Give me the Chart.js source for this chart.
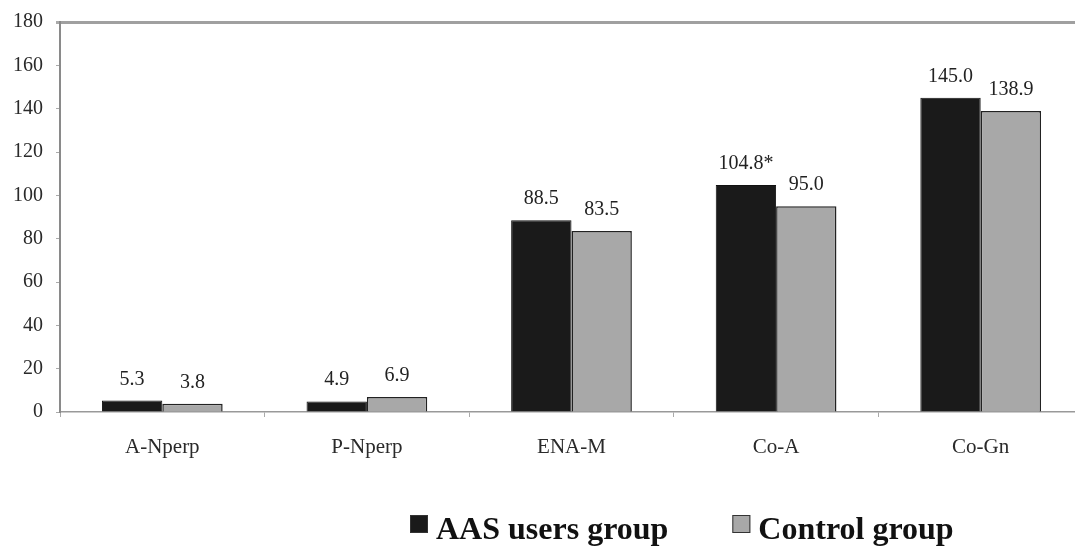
<!DOCTYPE html>
<html>
<head>
<meta charset="utf-8">
<script src="https://cdn.jsdelivr.net/npm/chart.js@4/dist/chart.umd.min.js"></script>
<style>
  html, body { margin: 0; padding: 0; background: #fff; overflow: hidden; }
  #wrap { width: 1083px; height: 547px; }
</style>
</head>
<body>
<div id="wrap"><canvas id="myChart" width="1083" height="547"></canvas></div>
<script>
// values
const categories = ['A-Nperp', 'P-Nperp', 'ENA-M', 'Co-A', 'Co-Gn'];
const aasUsers = [5.3, 4.9, 88.5, 104.8, 145.0];
const controls = [3.8, 6.9, 83.5, 95.0, 138.9];
const aasMarks = ['', '', '', '*', ''];
const controlMarks = ['', '', '', '', ''];
const seriesNames = ['AAS users group', 'Control group'];

const serif = "'Liberation Serif', 'DejaVu Serif', serif";

// value labels above each bar
const barLabels = {
    id: 'barLabels',
    afterDatasetsDraw(chart) {
        const ctx = chart.ctx;
        const marks = [aasMarks, controlMarks];
        ctx.save();
        ctx.font = '20px ' + serif;
        ctx.fillStyle = '#222';
        ctx.textAlign = 'center';
        ctx.textBaseline = 'alphabetic';
        chart.data.datasets.forEach((ds, i) => {
            chart.getDatasetMeta(i).data.forEach((bar, j) => {
                ctx.fillText(ds.data[j].toFixed(1) + marks[i][j], bar.x, bar.y - 16);
            });
        });
        ctx.restore();
    }
};

// legend drawn by hand: small boxes, big bold text, placed like the figure
const bottomLegend = {
    id: 'bottomLegend',
    afterDraw(chart) {
        const ctx = chart.ctx;
        let x = 410;
        const boxTop = 515, box = 18, baseline = 539;
        ctx.save();
        ctx.font = 'bold 32px ' + serif;
        ctx.textBaseline = 'alphabetic';
        ctx.textAlign = 'left';
        chart.data.datasets.forEach(ds => {
            ctx.fillStyle = ds.backgroundColor;
            ctx.fillRect(x, boxTop, box, box);
            ctx.strokeStyle = '#333';
            ctx.lineWidth = 1;
            ctx.strokeRect(x + 0.5, boxTop + 0.5, box - 1, box - 1);
            ctx.fillStyle = '#111';
            ctx.fillText(ds.label, x + box + 8, baseline);
            x += box + 8 + ctx.measureText(ds.label).width + 64;
        });
        ctx.restore();
    }
};

let ctx = document.getElementById('myChart').getContext('2d');
let chart = new Chart(ctx, {
    type: 'bar',
    data: {
        labels: categories,
        datasets: [{
            label: seriesNames[0],
            data: aasUsers,
            backgroundColor: '#1a1a1a',
            borderColor: '#111',
            borderWidth: 1
        }, {
            label: seriesNames[1],
            data: controls,
            backgroundColor: '#a8a8a8',
            borderColor: '#222',
            borderWidth: 1.5
        }]
    },
    options: {
        responsive: false,
        animation: false,
        layout: { padding: { left: 0, right: 0, top: 22, bottom: 70 } },
        datasets: { bar: { categoryPercentage: 0.59, barPercentage: 1.0 } },
        plugins: {
            tooltip: { enabled: false },
            legend: { display: false }
        },
        scales: {
            x: {
                afterFit: s => { s.height = 65; },
                border: { color: '#999', width: 1.5 },
                grid: { color: 'transparent', tickColor: '#aaa', tickLength: 5 },
                ticks: { font: { family: serif, size: 21 }, color: '#2a2a2a', padding: 18 }
            },
            y: {
                min: 0,
                max: 180,
                afterFit: s => { s.width = 60; s.paddingTop = 0; s.paddingBottom = 0; },
                border: { color: '#8a8a8a', width: 2 },
                grid: {
                    color: c => c.tick.value === 180 ? '#a0a0a0' : 'transparent',
                    lineWidth: c => c.tick.value === 180 ? 3 : 1,
                    tickColor: '#aaa',
                    tickLength: 4
                },
                ticks: { stepSize: 20, font: { family: serif, size: 20 }, color: '#2a2a2a', padding: 13 }
            }
        }
    },
    plugins: [barLabels, bottomLegend]
});
</script>
</body>
</html>
